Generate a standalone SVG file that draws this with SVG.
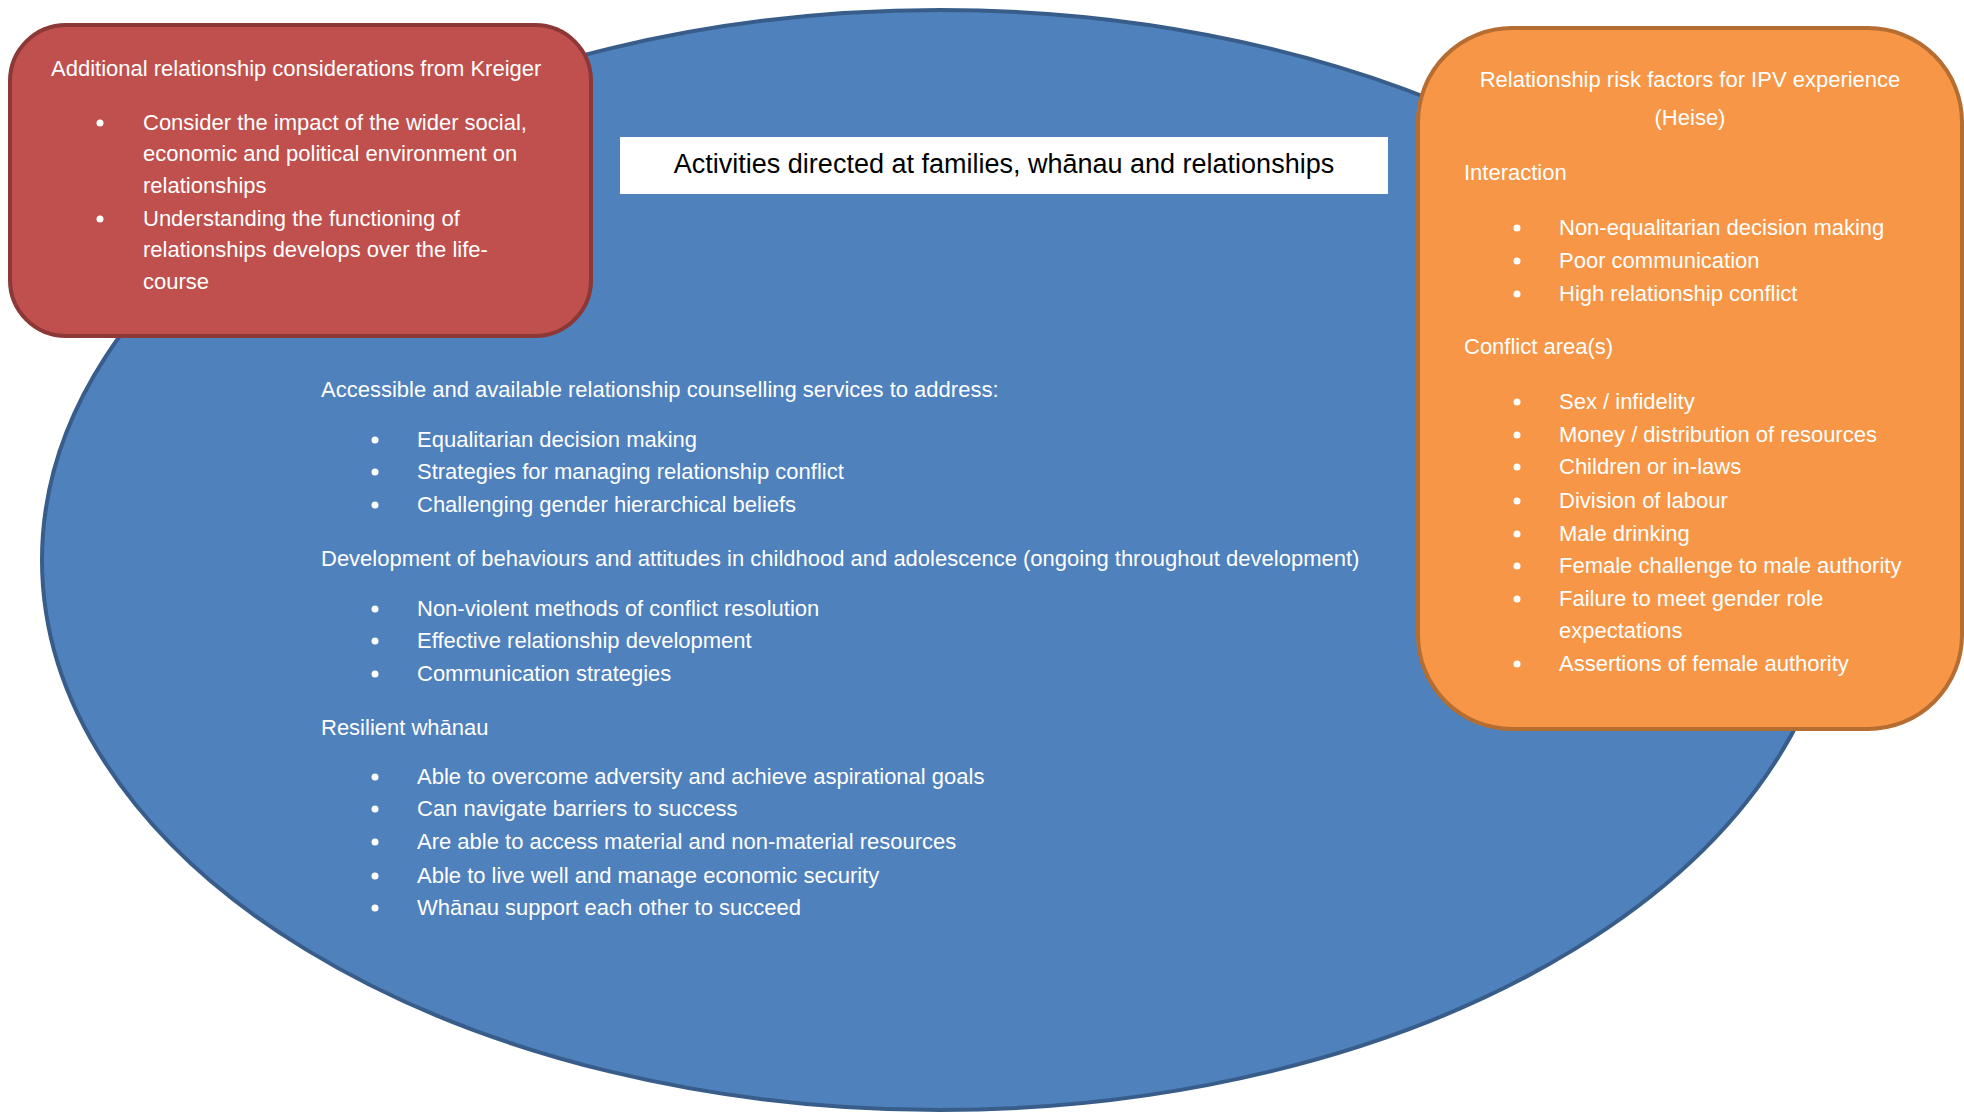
<svg xmlns="http://www.w3.org/2000/svg" width="1964" height="1112" viewBox="0 0 1964 1112">
<style>
  text { font-family: "Liberation Sans", Arial, sans-serif; font-size: 22px; fill: #ffffff; }
  .title { font-size: 27px; fill: #000000; }
  .mid { text-anchor: middle; }
  .dot { fill: #ffffff; }
</style>
<rect width="1964" height="1112" fill="#ffffff"/>
<g id="ellipse-families">
  <ellipse cx="940" cy="560" rx="898" ry="550" fill="#4f81bd" stroke="#385d8a" stroke-width="4"/>
  <text x="321" y="397">Accessible and available relationship counselling services to address:</text>
  <circle class="dot" cx="375" cy="440" r="3.5"/><text x="417" y="447">Equalitarian decision making</text>
  <circle class="dot" cx="375" cy="472" r="3.5"/><text x="417" y="479">Strategies for managing relationship conflict</text>
  <circle class="dot" cx="375" cy="505" r="3.5"/><text x="417" y="512">Challenging gender hierarchical beliefs</text>
  <text x="321" y="566">Development of behaviours and attitudes in childhood and adolescence (ongoing throughout development)</text>
  <circle class="dot" cx="375" cy="609" r="3.5"/><text x="417" y="616">Non-violent methods of conflict resolution</text>
  <circle class="dot" cx="375" cy="641" r="3.5"/><text x="417" y="648">Effective relationship development</text>
  <circle class="dot" cx="375" cy="674" r="3.5"/><text x="417" y="681">Communication strategies</text>
  <text x="321" y="735">Resilient whānau</text>
  <circle class="dot" cx="375" cy="777" r="3.5"/><text x="417" y="784">Able to overcome adversity and achieve aspirational goals</text>
  <circle class="dot" cx="375" cy="809" r="3.5"/><text x="417" y="816">Can navigate barriers to success</text>
  <circle class="dot" cx="375" cy="842" r="3.5"/><text x="417" y="849">Are able to access material and non-material resources</text>
  <circle class="dot" cx="375" cy="876" r="3.5"/><text x="417" y="883">Able to live well and manage economic security</text>
  <circle class="dot" cx="375" cy="908" r="3.5"/><text x="417" y="915">Whānau support each other to succeed</text>
</g>
<g id="kreiger-box">
  <rect x="10" y="25" width="581" height="311" rx="56" ry="56" fill="#c0504d" stroke="#8c3836" stroke-width="4"/>
  <text x="51" y="76">Additional relationship considerations from Kreiger</text>
  <circle class="dot" cx="100" cy="123" r="3.5"/><text x="143" y="130">Consider the impact of the wider social,</text>
  <text x="143" y="161">economic and political environment on</text>
  <text x="143" y="193">relationships</text>
  <circle class="dot" cx="100" cy="219" r="3.5"/><text x="143" y="226">Understanding the functioning of</text>
  <text x="143" y="257">relationships develops over the life-</text>
  <text x="143" y="289">course</text>
</g>
<g id="heise-box">
  <rect x="1418" y="28" width="544" height="701" rx="94" ry="94" fill="#f79646" stroke="#b66d31" stroke-width="4"/>
  <text class="mid" x="1690" y="87">Relationship risk factors for IPV experience</text>
  <text class="mid" x="1690" y="125">(Heise)</text>
  <text x="1464" y="180">Interaction</text>
  <circle class="dot" cx="1517" cy="228" r="3.5"/><text x="1559" y="235">Non-equalitarian decision making</text>
  <circle class="dot" cx="1517" cy="261" r="3.5"/><text x="1559" y="268">Poor communication</text>
  <circle class="dot" cx="1517" cy="294" r="3.5"/><text x="1559" y="301">High relationship conflict</text>
  <text x="1464" y="354">Conflict area(s)</text>
  <circle class="dot" cx="1517" cy="402" r="3.5"/><text x="1559" y="409">Sex / infidelity</text>
  <circle class="dot" cx="1517" cy="435" r="3.5"/><text x="1559" y="442">Money / distribution of resources</text>
  <circle class="dot" cx="1517" cy="467" r="3.5"/><text x="1559" y="474">Children or in-laws</text>
  <circle class="dot" cx="1517" cy="501" r="3.5"/><text x="1559" y="508">Division of labour</text>
  <circle class="dot" cx="1517" cy="534" r="3.5"/><text x="1559" y="541">Male drinking</text>
  <circle class="dot" cx="1517" cy="566" r="3.5"/><text x="1559" y="573">Female challenge to male authority</text>
  <circle class="dot" cx="1517" cy="599" r="3.5"/><text x="1559" y="606">Failure to meet gender role</text>
  <text x="1559" y="638">expectations</text>
  <circle class="dot" cx="1517" cy="664" r="3.5"/><text x="1559" y="671">Assertions of female authority</text>
</g>
<g id="title-box">
  <rect x="620" y="137" width="768" height="57" fill="#ffffff"/>
  <text class="title mid" x="1004" y="173">Activities directed at families, whānau and relationships</text>
</g>
<g id="connectors"></g>
</svg>
